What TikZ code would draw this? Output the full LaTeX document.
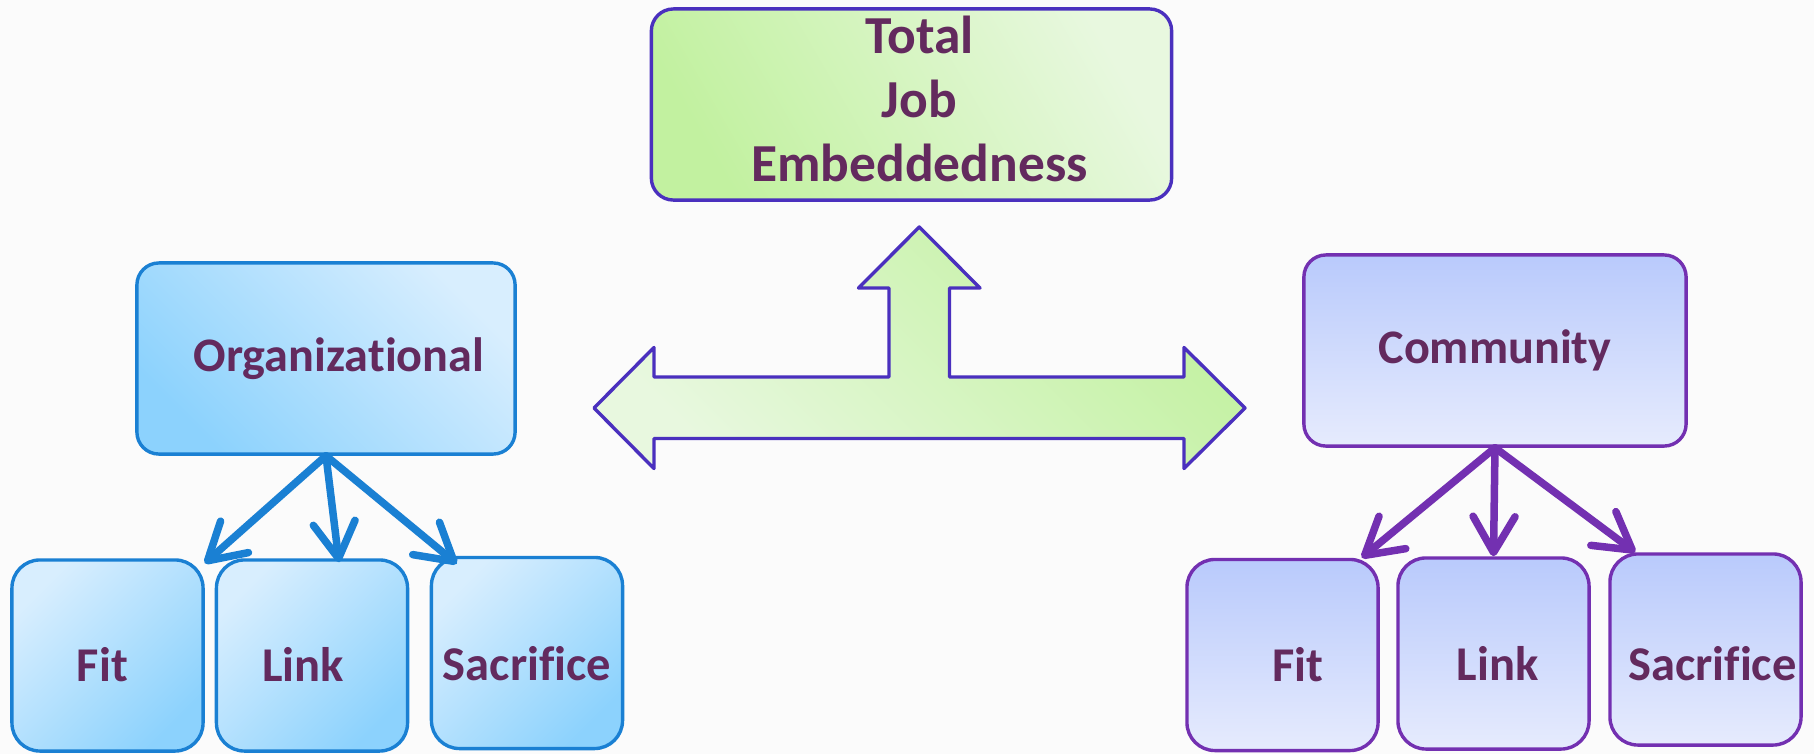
\documentclass[tikz,border=0pt]{standalone}
\usepackage{fontspec}
\setmainfont{Carlito}[Ligatures=NoCommon]
\usepackage{tikz}
\usetikzlibrary{arrows.meta,calc}
\definecolor{prune}{HTML}{632A5E}
\definecolor{fond}{HTML}{FBFBFB}
\definecolor{bleu}{HTML}{1A80D3}
\definecolor{bleuclair}{HTML}{D8EEFE}
\definecolor{bleufonce}{HTML}{8CD2FD}
\definecolor{indigo}{HTML}{4A30BE}
\definecolor{vertclair}{HTML}{E8F8DF}
\definecolor{vertfonce}{HTML}{C2F1A0}
\definecolor{mauve}{HTML}{7330B1}
\definecolor{lilasfonce}{HTML}{B9CAFC}
\definecolor{lilasclair}{HTML}{E6EBFD}
\tikzset{case/.style={
    line width=0.034cm,
    inner sep=0pt,
    text=prune}}
\tikzset{grande/.style={
    case,
    rounded corners=0.22cm,
    minimum width=3.78cm,
    minimum height=1.91cm,
    font=\bfseries\fontsize{13.7}{16.4}\selectfont,
    text height=10.4pt,
    text depth=3pt}}
\tikzset{petite/.style={
    case,
    rounded corners=0.28cm,
    minimum width=1.91cm,
    minimum height=1.91cm,
    font=\bfseries\fontsize{13.8}{16.5}\selectfont,
    text height=14.5pt,
    text depth=0pt}}
\tikzset{gauche/.style={
    draw=bleu,
    top color=bleuclair,
    bottom color=bleufonce}}
\tikzset{droite/.style={
    draw=mauve,
    top color=lilasfonce,
    bottom color=lilasclair}}
\tikzset{fleche/.style={
    line width=0.075cm,
    line cap=round,
    -{Straight Barb[round,length=0.36cm,width=0.42cm]}}}

\begin{document}
\begin{tikzpicture}[x=0.01cm, y=-0.01cm]
  \path[use as bounding box, fill=fond] (0,0) rectangle (1814,754);

  \coordinate (T) at (911.5,104.5);
\coordinate (O) at (326,358.5);
\coordinate (C) at (1495,350.5);

% la grande fleche a trois pointes
\draw[line width=0.034cm,
  draw=indigo,
  line join=round,
  top color=vertfonce,
  bottom color=vertclair,
  shading angle=-45]
  (594,408) -- (654,347.5) -- (654,377) -- (889,377) -- (889,288)
  -- (858.5,288) -- (919.3,227) -- (980,288) -- (949.5,288)
  -- (949.5,377) -- (1184,377) -- (1184,347.5) -- (1245,408)
  -- (1184,468.5) -- (1184,438.5) -- (654,438.5) -- (654,468.5) -- cycle;

\node[case,
  rounded corners=0.22cm,
  minimum width=5.2cm,
  minimum height=1.91cm,
  draw=indigo,
  top color=vertclair,
  bottom color=vertfonce,
  shading angle=-60,
  align=center,
  text depth=3pt,
  font=\bfseries\fontsize{15.2}{18.2}\selectfont] (total) at (T)
  {\hspace*{0.16cm}Total\\\hspace*{0.16cm}Job\\\hspace*{0.16cm}Embeddedness};

\node[grande, gauche,
  shading angle=-45] (org) at (O) {\hspace*{0.26cm}Organizational};

\node[grande, droite,
  minimum width=3.82cm] (com) at (C) {Community};

\node[petite, gauche, shading angle=45] (fitL) at (107.5,655.5) {Fit\hspace*{0.1cm}};
\node[petite, gauche, shading angle=45] (linkL) at (312,655.5) {Link\hspace*{0.18cm}};
\node[petite, gauche, shading angle=45, text height=15.9pt] (sacL) at (527,653) {Sacrifice};

\node[petite, droite, text height=14.8pt] (fitR) at (1282.5,655) {\hspace*{0.3cm}Fit};
\node[petite, droite, text height=15.6pt] (linkR) at (1493.5,653.5) {\hspace*{0.08cm}Link};
\node[petite, droite, text height=17.6pt] (sacR) at (1705.5,649.5) {\hspace*{0.14cm}Sacrifice};

  \draw[fleche, draw=bleu] (org.south) -- ([yshift=-0.05cm]fitL.north east);
  \draw[fleche, draw=bleu] (org.south) -- ([xshift=0.27cm,yshift=-0.04cm]linkL.north);
  \draw[fleche, draw=bleu] (org.south) -- ([xshift=0.27cm,yshift=-0.08cm]sacL.north west);
  \draw[fleche, draw=mauve] (com.south) -- ([xshift=-0.18cm]fitR.north east);
  \draw[fleche, draw=mauve] (com.south) -- (linkR.north);
  \draw[fleche, draw=mauve] (com.south) -- ([xshift=0.27cm]sacR.north west);
\end{tikzpicture}
\end{document}
